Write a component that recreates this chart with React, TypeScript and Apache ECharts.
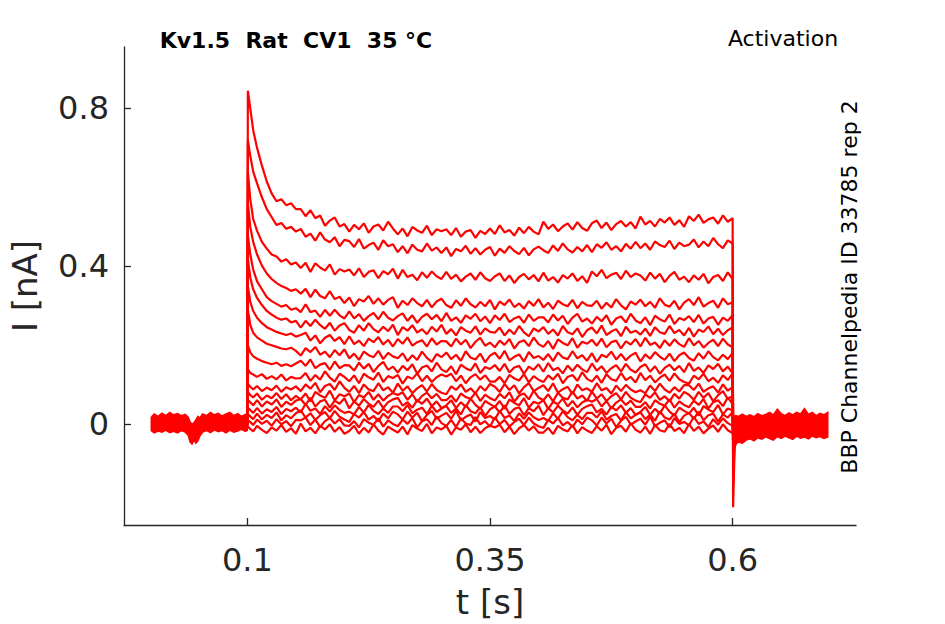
import React, { useEffect, useRef } from "react";
import * as echarts from "echarts";

// ---- Axis ticks ----
const xTicks = [0.1, 0.35, 0.6];
const yTicks = [0, 0.4, 0.8];

// ---- Sample times of the recorded step (ms) ----
const pulseTimesMs = [
  100, 100.5, 103, 106, 110, 115, 120, 125, 130, 135, 140, 145, 150,
  155, 160, 165, 170, 175, 180, 185, 190, 195, 200,
  205, 210, 215, 220, 225, 230, 235, 240, 245, 250,
  255, 260, 265, 270, 275, 280, 285, 290, 295, 300,
  305, 310, 315, 320, 325, 330, 335, 340, 345, 350,
  355, 360, 365, 370, 375, 380, 385, 390, 395, 400,
  405, 410, 415, 420, 425, 430, 435, 440, 445, 450,
  455, 460, 465, 470, 475, 480, 485, 490, 495, 500,
  505, 510, 515, 520, 525, 530, 535, 540, 545, 550,
  555, 560, 565, 570, 575, 580, 585, 590, 595, 600,
  600.5, 602, 605, 610, 620,
];

// ---- Current traces (pA), one per activation voltage step ----
const trace1 = [
  0, 845, 800, 745, 700, 655, 615, 585, 565, 570, 555, 560, 545,
  545, 527, 542, 522, 529, 503, 516, 524, 501, 507,
  488, 505, 494, 509, 485, 501, 506, 491, 513, 496,
  481, 496, 476, 500, 491, 485, 503, 479, 494, 489,
  494, 479, 497, 475, 488, 492, 472, 490, 482, 496,
  482, 504, 486, 492, 478, 498, 484, 500, 488, 481,
  513, 495, 506, 489, 501, 509, 493, 512, 497, 490,
  509, 516, 497, 511, 492, 507, 515, 501, 512, 496,
  526, 506, 515, 501, 520, 511, 524, 505, 517, 500,
  527, 515, 531, 510, 519, 524, 508, 529, 513, 522,
  -210, -60, -35, -20, 0,
];
const trace2 = [
  0, 720, 680, 640, 610, 575, 545, 525, 505, 510, 495, 500, 488,
  495, 475, 483, 465, 486, 468, 461, 474, 451, 467,
  464, 449, 469, 445, 454, 460, 442, 466, 451, 456,
  436, 451, 433, 455, 442, 438, 458, 440, 448, 434,
  448, 426, 444, 438, 452, 432, 446, 430, 442, 449,
  427, 445, 434, 451, 439, 431, 447, 428, 443, 450,
  441, 434, 453, 439, 458, 443, 435, 449, 438, 454,
  436, 456, 447, 461, 442, 451, 438, 457, 445, 462,
  446, 458, 442, 463, 454, 449, 465, 444, 460, 451,
  455, 468, 448, 463, 451, 472, 456, 446, 466, 458,
  -150, -50, -30, -15, 5,
];
const trace3 = [
  0, 640, 570, 520, 490, 462, 445, 430, 425, 412, 418, 405, 410,
  396, 409, 386, 408, 397, 389, 405, 379, 393, 387,
  392, 377, 395, 373, 386, 390, 370, 388, 380, 394,
  369, 391, 373, 379, 365, 385, 371, 387, 375, 368,
  386, 368, 379, 362, 374, 382, 366, 385, 370, 363,
  375, 382, 363, 377, 358, 373, 381, 367, 378, 362,
  384, 364, 373, 359, 378, 369, 382, 363, 375, 358,
  387, 375, 391, 370, 379, 384, 368, 389, 373, 382,
  377, 364, 384, 369, 381, 360, 376, 386, 366, 374,
  360, 377, 366, 381, 357, 373, 378, 363, 385, 368,
  -110, -45, -30, -20, -5,
];
const trace4 = [
  0, 560, 500, 462, 430, 402, 382, 368, 358, 350, 345, 338, 342,
  331, 343, 322, 341, 325, 319, 337, 317, 323, 307,
  321, 299, 317, 311, 325, 305, 319, 303, 315, 322,
  295, 313, 302, 319, 307, 299, 315, 296, 311, 318,
  302, 295, 314, 300, 319, 304, 296, 310, 299, 315,
  291, 311, 302, 316, 297, 306, 293, 312, 300, 317,
  296, 308, 292, 313, 304, 299, 315, 294, 310, 301,
  300, 313, 293, 308, 296, 317, 301, 291, 311, 303,
  316, 299, 310, 295, 319, 303, 298, 313, 291, 308,
  317, 302, 322, 298, 307, 313, 295, 319, 304, 309,
  -90, -40, -25, -10, 10,
];
const trace5 = [
  0, 480, 430, 392, 362, 342, 322, 312, 305, 298, 302, 290, 294,
  284, 304, 284, 288, 272, 290, 275, 290, 276, 268,
  286, 268, 279, 262, 274, 282, 266, 285, 270, 263,
  274, 281, 262, 276, 257, 272, 280, 266, 277, 261,
  282, 262, 271, 257, 276, 267, 280, 261, 273, 256,
  276, 264, 280, 259, 268, 273, 257, 278, 262, 271,
  271, 258, 278, 263, 275, 254, 270, 280, 260, 268,
  255, 272, 261, 276, 252, 268, 273, 258, 280, 263,
  256, 271, 251, 275, 266, 260, 278, 254, 269, 264,
  274, 259, 277, 255, 268, 272, 252, 270, 262, 276,
  -75, -40, -30, -15, 0,
];
const trace6 = [
  0, 420, 372, 342, 320, 302, 287, 278, 270, 265, 268, 258, 262,
  245, 262, 249, 265, 251, 242, 257, 237, 250, 256,
  239, 232, 251, 237, 256, 241, 233, 247, 236, 252,
  226, 246, 237, 251, 232, 241, 228, 247, 235, 252,
  229, 241, 225, 246, 237, 232, 248, 227, 243, 234,
  232, 245, 225, 240, 228, 249, 233, 223, 243, 235,
  246, 229, 240, 225, 249, 233, 228, 243, 221, 238,
  245, 230, 250, 226, 235, 241, 223, 247, 232, 237,
  227, 242, 224, 246, 233, 229, 249, 231, 239, 225,
  244, 222, 240, 234, 248, 228, 242, 226, 238, 245,
  -65, -35, -20, -10, 5,
];
const trace7 = [
  0, 350, 310, 287, 270, 256, 246, 240, 234, 230, 226, 230, 222,
  226, 232, 212, 225, 205, 219, 226, 211, 221, 203,
  223, 203, 212, 198, 217, 208, 221, 202, 214, 197,
  216, 204, 220, 199, 208, 213, 197, 218, 202, 211,
  210, 197, 217, 202, 214, 193, 209, 219, 199, 207,
  195, 212, 201, 216, 192, 208, 213, 198, 220, 203,
  196, 211, 191, 215, 206, 200, 218, 194, 209, 204,
  214, 199, 217, 195, 208, 212, 192, 210, 202, 216,
  197, 219, 201, 207, 193, 213, 199, 215, 203, 196,
  218, 200, 211, 194, 206, 214, 198, 217, 202, 195,
  -55, -35, -25, -15, -5,
];
const trace8 = [
  0, 290, 252, 232, 220, 212, 204, 200, 196, 192, 190, 194, 186,
  174, 193, 183, 196, 176, 184, 170, 188, 175, 190,
  167, 179, 163, 184, 175, 170, 186, 165, 181, 172,
  167, 180, 160, 175, 163, 184, 168, 158, 178, 170,
  182, 165, 176, 161, 185, 169, 164, 179, 157, 174,
  181, 166, 186, 162, 171, 177, 159, 183, 168, 173,
  163, 178, 160, 182, 169, 165, 185, 167, 175, 161,
  180, 158, 176, 170, 184, 164, 178, 162, 174, 181,
  159, 177, 166, 183, 171, 163, 179, 160, 175, 182,
  168, 161, 180, 166, 185, 170, 162, 176, 165, 181,
  -50, -30, -20, -5, 10,
];
const trace9 = [
  0, 200, 182, 172, 166, 160, 156, 152, 156, 148, 152, 147, 154,
  161, 148, 164, 142, 151, 155, 138, 159, 142, 150,
  149, 136, 156, 141, 153, 132, 148, 158, 138, 146,
  131, 148, 137, 152, 128, 144, 149, 134, 156, 139,
  132, 147, 127, 151, 142, 136, 154, 130, 145, 140,
  150, 135, 153, 131, 144, 148, 128, 146, 138, 152,
  133, 155, 137, 143, 129, 149, 135, 151, 139, 132,
  154, 136, 147, 130, 142, 150, 134, 153, 138, 131,
  145, 152, 133, 147, 128, 143, 151, 137, 148, 132,
  155, 135, 144, 130, 149, 140, 153, 134, 146, 129,
  -45, -30, -15, -10, 0,
];
const trace10 = [
  0, 140, 130, 126, 120, 127, 115, 122, 114, 126, 111, 120, 116,
  117, 130, 110, 125, 113, 134, 118, 108, 128, 120,
  109, 124, 104, 128, 119, 113, 131, 107, 122, 117,
  125, 103, 121, 115, 129, 109, 123, 107, 119, 126,
  121, 128, 109, 123, 104, 119, 127, 113, 124, 108,
  108, 120, 104, 125, 116, 111, 127, 106, 122, 113,
  107, 124, 113, 128, 104, 120, 125, 110, 132, 115,
  108, 123, 105, 127, 114, 110, 130, 112, 120, 106,
  130, 112, 123, 106, 118, 126, 110, 129, 114, 107,
  103, 123, 114, 128, 109, 118, 105, 124, 112, 129,
  -40, -25, -20, -10, 5,
];
const trace11 = [
  0, 102, 95, 88, 97, 84, 93, 86, 98, 82, 94, 88, 96,
  84, 101, 90, 105, 81, 97, 102, 87, 109, 92,
  82, 97, 79, 101, 88, 84, 104, 86, 94, 80,
  103, 85, 96, 79, 91, 99, 83, 102, 87, 80,
  76, 96, 87, 101, 82, 91, 78, 97, 85, 102,
  95, 82, 102, 87, 99, 78, 94, 104, 84, 92,
  99, 84, 104, 80, 89, 95, 77, 101, 86, 91,
  82, 104, 86, 92, 78, 98, 84, 100, 88, 81,
  86, 79, 98, 84, 103, 88, 80, 94, 83, 99,
  99, 87, 103, 82, 91, 96, 80, 101, 85, 94,
  -35, -25, -15, -5, -5,
];
const trace12 = [
  0, 82, 74, 68, 78, 62, 73, 66, 79, 64, 76, 61, 72,
  63, 78, 58, 82, 73, 67, 85, 61, 76, 71,
  78, 56, 74, 68, 82, 62, 76, 60, 72, 79,
  74, 81, 62, 76, 57, 72, 80, 66, 77, 61,
  61, 73, 57, 78, 69, 64, 80, 59, 75, 66,
  60, 77, 66, 81, 57, 73, 78, 63, 85, 68,
  61, 76, 58, 80, 67, 63, 83, 65, 73, 59,
  83, 65, 76, 59, 71, 79, 63, 82, 67, 60,
  56, 76, 67, 81, 62, 71, 58, 77, 65, 82,
  75, 62, 82, 67, 79, 58, 74, 84, 64, 72,
  -30, -20, -10, 0, 10,
];
const trace13 = [
  0, 62, 56, 48, 61, 45, 58, 50, 63, 44, 57, 49, 60,
  64, 49, 67, 45, 58, 62, 42, 60, 52, 66,
  40, 58, 47, 64, 52, 44, 60, 41, 56, 63,
  67, 47, 56, 42, 61, 52, 65, 46, 58, 41,
  48, 61, 41, 56, 44, 65, 49, 39, 59, 51,
  44, 59, 39, 63, 54, 48, 66, 42, 57, 52,
  61, 39, 57, 51, 65, 45, 59, 43, 55, 62,
  57, 64, 45, 59, 40, 55, 63, 49, 60, 44,
  44, 56, 40, 61, 52, 47, 63, 42, 58, 49,
  43, 60, 49, 64, 40, 56, 61, 46, 68, 51,
  -30, -20, -15, -10, 0,
];
const trace14 = [
  0, 42, 36, 29, 41, 27, 38, 31, 44, 26, 39, 33, 42,
  30, 52, 34, 40, 26, 46, 32, 48, 36, 29,
  32, 25, 44, 30, 49, 34, 26, 40, 29, 45,
  45, 33, 49, 28, 37, 42, 26, 47, 31, 40,
  46, 29, 40, 25, 49, 33, 28, 43, 21, 38,
  45, 30, 48, 26, 39, 43, 23, 41, 33, 47,
  23, 41, 30, 47, 35, 27, 43, 24, 39, 46,
  50, 30, 39, 25, 44, 35, 48, 29, 41, 24,
  31, 44, 24, 39, 27, 48, 32, 22, 42, 34,
  27, 42, 22, 46, 37, 31, 49, 25, 40, 35,
  -25, -15, -10, 0, 5,
];
const trace15 = [
  0, 26, 20, 13, 27, 12, 24, 16, 30, 10, 23, 15, 28,
  35, 17, 28, 11, 23, 31, 15, 34, 19, 12,
  6, 26, 17, 31, 12, 21, 8, 27, 15, 32,
  25, 12, 32, 17, 29, 8, 24, 34, 14, 22,
  29, 14, 34, 10, 19, 25, 7, 31, 16, 21,
  12, 34, 16, 22, 8, 28, 14, 30, 18, 11,
  16, 9, 28, 14, 33, 18, 10, 24, 13, 29,
  29, 17, 33, 12, 21, 26, 10, 31, 15, 24,
  30, 13, 24, 9, 33, 17, 12, 27, 5, 22,
  29, 14, 32, 10, 23, 27, 7, 25, 17, 31,
  -25, -20, -10, -5, -5,
];
const trace16 = [
  0, 10, 6, -2, 12, 1, 9, -4, 13, 0, 8, -5, 11,
  10, 17, -2, 12, -7, 8, 16, 2, 13, -3,
  -4, 8, -8, 13, 4, -1, 15, -6, 10, 1,
  -5, 12, 1, 16, -8, 8, 13, -2, 20, 3,
  -4, 11, -7, 15, 2, -2, 18, 0, 8, -6,
  18, 0, 11, -6, 6, 14, -2, 17, 2, -5,
  -9, 11, 2, 16, -3, 6, -7, 12, 0, 17,
  10, -3, 17, 2, 14, -7, 9, 19, -1, 7,
  14, -1, 19, -5, 4, 10, -8, 16, 1, 6,
  -3, 19, 1, 7, -7, 13, -1, 15, 3, -4,
  -20, -15, -5, 0, 10,
];
const trace17 = [
  0, -6, -12, -18, -4, -14, -22, -8, -16, -2, -19, -10, -24,
  2, -18, -9, -23, -4, -13, 0, -19, -7, -24,
  -17, -4, -24, -9, -21, 0, -16, -26, -6, -14,
  -21, -6, -26, -2, -11, -17, 1, -23, -8, -13,
  -4, -26, -8, -14, 0, -20, -6, -22, -10, -3,
  -8, -1, -20, -6, -25, -10, -2, -16, -5, -21,
  -21, -9, -25, -4, -13, -18, -2, -23, -7, -16,
  -22, -5, -16, -1, -25, -9, -4, -19, 3, -14,
  -21, -6, -24, -2, -15, -19, 1, -17, -9, -23,
  1, -17, -6, -23, -11, -3, -19, 0, -15, -22,
  -25, -20, -15, -10, -5,
];

const traces = [
  trace1, trace2, trace3, trace4, trace5, trace6, trace7, trace8, trace9,
  trace10, trace11, trace12, trace13, trace14, trace15, trace16, trace17,
];

// ---- Holding-level band before the step (all traces overlap), t in s, I in nA ----
const preBandTimes = [
  0.001, 0.004, 0.008, 0.012, 0.016, 0.02, 0.024, 0.028, 0.032, 0.036,
  0.039, 0.041, 0.043, 0.045, 0.047, 0.049, 0.051, 0.054, 0.058, 0.062,
  0.066, 0.07, 0.074, 0.078, 0.082, 0.086, 0.09, 0.094, 0.098, 0.1,
];
const preBandUpper = [
  0.018, 0.026, 0.02, 0.028, 0.022, 0.03, 0.024, 0.027, 0.022, 0.025,
  0.018, 0.006, 0.0, 0.004, 0.012, 0.02, 0.016, 0.026, 0.022, 0.03,
  0.024, 0.028, 0.021, 0.026, 0.03, 0.022, 0.027, 0.02, 0.025, 0.02,
];
const preBandLower = [
  -0.016, -0.022, -0.017, -0.02, -0.015, -0.021, -0.018, -0.022, -0.016, -0.02,
  -0.028, -0.045, -0.05, -0.04, -0.048, -0.042, -0.03, -0.02, -0.016, -0.021,
  -0.014, -0.019, -0.016, -0.022, -0.015, -0.02, -0.017, -0.013, -0.018, -0.015,
];

// ---- Holding-level band after the step ----
const postBandTimes = [
  0.6, 0.603, 0.606, 0.61, 0.614, 0.618, 0.622, 0.626, 0.63, 0.634,
  0.638, 0.642, 0.646, 0.65, 0.654, 0.658, 0.662, 0.666, 0.67, 0.674,
  0.678, 0.682, 0.686, 0.69, 0.694, 0.698,
];
const postBandUpper = [
  0.018, 0.022, 0.02, 0.026, 0.02, 0.024, 0.019, 0.027, 0.022, 0.025,
  0.03, 0.024, 0.038, 0.027, 0.022, 0.029, 0.024, 0.03, 0.026, 0.04,
  0.025, 0.03, 0.022, 0.028, 0.024, 0.03,
];
const postBandLower = [
  -0.04, -0.05, -0.045, -0.048, -0.04, -0.037, -0.042, -0.034, -0.038, -0.032,
  -0.036, -0.04, -0.031, -0.036, -0.03, -0.034, -0.038, -0.03, -0.035, -0.032,
  -0.037, -0.03, -0.034, -0.031, -0.036, -0.032,
];

const RED = "#ff0000";
const INK = "#262626";
const FONT = "'DejaVu Sans', sans-serif";

function bandSeries(times: number[], upper: number[], lower: number[]) {
  return {
    type: "custom",
    silent: true,
    z: 1,
    data: [[times[0], 0]],
    renderItem: (_params: any, api: any) => {
      const up = times.map((t, i) => api.coord([t, upper[i]]));
      const lo = times.map((t, i) => api.coord([t, lower[i]])).reverse();
      return {
        type: "polygon",
        shape: { points: up.concat(lo) },
        style: { fill: RED, stroke: RED, lineWidth: 1.5 },
      };
    },
  };
}

export default function App() {
  const ref = useRef<HTMLDivElement>(null);

  useEffect(() => {
    if (!ref.current) return;
    const chart = echarts.init(ref.current, undefined, { renderer: "svg" });

    // unit conversion only: ms -> s, pA -> nA
    const lineSeries = traces.map((tr) => ({
      type: "line",
      showSymbol: false,
      symbol: "none",
      silent: true,
      z: 2,
      lineStyle: { color: RED, width: 2.2 },
      data: pulseTimesMs.map((t, i) => [t / 1000, tr[i] / 1000]),
    }));

    chart.setOption({
      animation: false,
      backgroundColor: "#ffffff",
      textStyle: { fontFamily: FONT },
      grid: { left: 121, top: 47, right: 89, bottom: 98, containLabel: false },
      xAxis: {
        type: "value",
        min: -0.0271,
        max: 0.7271,
        name: "t [s]",
        nameLocation: "middle",
        nameGap: 60,
        nameTextStyle: { color: INK, fontSize: 34, fontFamily: FONT },
        axisLine: { show: true, onZero: false, lineStyle: { color: INK, width: 1.3 } },
        axisTick: { show: true, inside: true, length: 7, customValues: xTicks, lineStyle: { color: INK, width: 1.3 } },
        axisLabel: {
          color: INK,
          fontSize: 32,
          fontFamily: FONT,
          margin: 19,
          customValues: xTicks,
          formatter: (v: number) => String(v),
        },
        splitLine: { show: false },
      },
      yAxis: {
        type: "value",
        min: -0.2551,
        max: 0.9556,
        name: "I [nA]",
        nameLocation: "middle",
        nameGap: 82,
        nameTextStyle: { color: INK, fontSize: 34, fontFamily: FONT },
        axisLine: { show: true, onZero: false, lineStyle: { color: INK, width: 1.3 } },
        axisTick: { show: true, inside: true, length: 7, customValues: yTicks, lineStyle: { color: INK, width: 1.3 } },
        axisLabel: {
          color: INK,
          fontSize: 32,
          fontFamily: FONT,
          margin: 15,
          customValues: yTicks,
          formatter: (v: number) => String(v),
        },
        splitLine: { show: false },
      },
      graphic: [
        {
          type: "text",
          x: 296,
          y: 40,
          style: {
            text: "Kv1.5  Rat  CV1  35 °C",
            font: `bold 22px ${FONT}`,
            fill: "#000000",
            textAlign: "center",
            textVerticalAlign: "middle",
          },
        },
        {
          type: "text",
          x: 783,
          y: 38,
          style: {
            text: "Activation",
            font: `22px ${FONT}`,
            fill: "#000000",
            textAlign: "center",
            textVerticalAlign: "middle",
          },
        },
        {
          type: "text",
          x: 849,
          y: 287,
          rotation: Math.PI / 2,
          style: {
            text: "BBP Channelpedia ID 33785 rep 2",
            font: `22px ${FONT}`,
            fill: "#000000",
            textAlign: "center",
            textVerticalAlign: "middle",
          },
        },
      ],
      series: [
        bandSeries(preBandTimes, preBandUpper, preBandLower),
        bandSeries(postBandTimes, postBandUpper, postBandLower),
        ...lineSeries,
      ],
    });

    return () => chart.dispose();
  }, []);

  return (
    <div
      ref={ref}
      style={{ position: "fixed", left: 0, top: 0, width: 945, height: 624, background: "#fff" }}
    />
  );
}
